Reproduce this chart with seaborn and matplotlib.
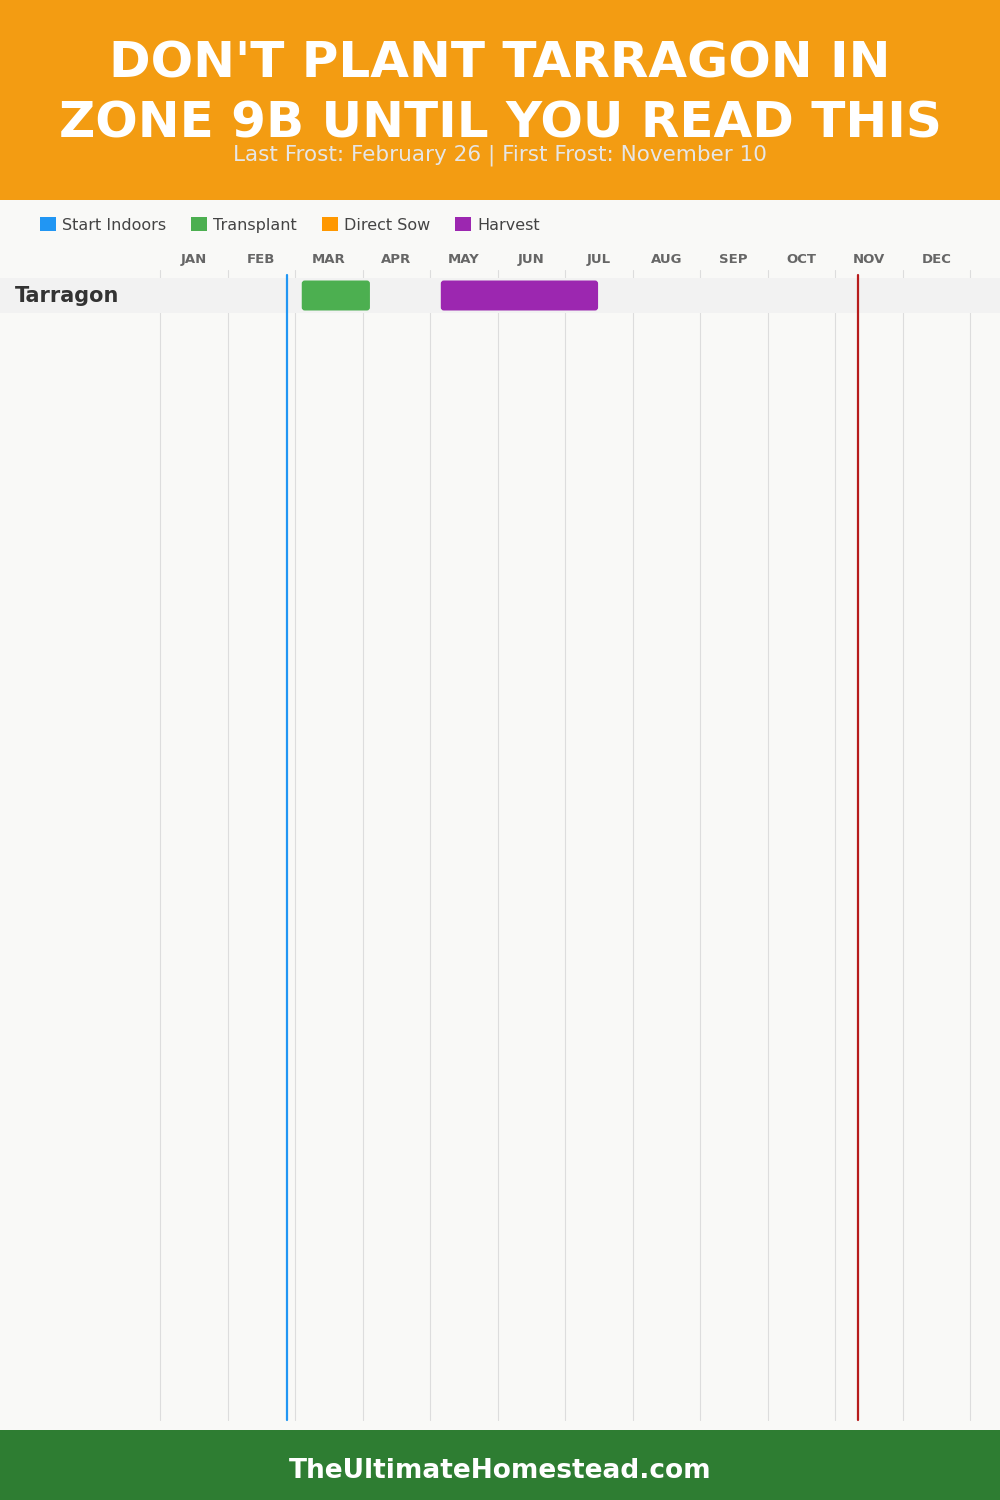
import matplotlib
matplotlib.use("Agg")
import matplotlib.pyplot as plt
from matplotlib.patches import Rectangle, Patch, FancyBboxPatch
import seaborn as sns
import pandas as pd

# ---------------- data ----------------
months = ["JAN", "FEB", "MAR", "APR", "MAY", "JUN",
          "JUL", "AUG", "SEP", "OCT", "NOV", "DEC"]
crops = ["Tarragon"]
seg_crop = ["Tarragon", "Tarragon"]
seg_activity = ["Transplant", "Harvest"]
seg_start = [2.10, 4.16]      # in months from Jan 1
seg_end = [3.11, 6.49]
activities = ["Start Indoors", "Transplant", "Direct Sow", "Harvest"]
activity_colors = ["#2196F3", "#4CAF50", "#FF9800", "#9C27B0"]
last_frost = 1.88   # Feb 26
first_frost = 10.34  # Nov 10
title_lines = ["DON'T PLANT TARRAGON IN", "ZONE 9B UNTIL YOU READ THIS"]
subtitle = "Last Frost: February 26 | First Frost: November 10"
footer = "TheUltimateHomestead.com"

# ---------------- style ----------------
sns.set_theme(style="white")
plt.rcParams["font.family"] = ["DejaVu Sans"]

BG = "#F9F9F7"
W, H = 1000, 1500
fig = plt.figure(figsize=(10, 15), dpi=100, facecolor=BG)

# header & footer bands
fig.patches.append(Rectangle((0, 1 - 200 / H), 1, 200 / H, transform=fig.transFigure,
                             facecolor="#F39C12", edgecolor="none", zorder=0))
fig.patches.append(Rectangle((0, 0), 1, 70 / H, transform=fig.transFigure,
                             facecolor="#2E7D32", edgecolor="none", zorder=0))

fig.text(0.5, 1 - 64 / H, title_lines[0], ha="center", va="center", color="white",
         fontsize=36, fontweight="heavy")
fig.text(0.5, 1 - 124 / H, title_lines[1], ha="center", va="center", color="white",
         fontsize=36, fontweight="heavy")
fig.text(0.5, 1 - 155 / H, subtitle, ha="center", va="center", color="#E6E6E6",
         fontsize=15.5)
fig.text(0.5, 29 / H, footer, ha="center", va="center", color="white",
         fontsize=19, fontweight="bold")

# main axes: full width, between header and footer
ax = fig.add_axes([0, 70 / H, 1, (1430 - 200) / H])
ax.set_facecolor(BG)

px_per_month = 67.5
x0 = 160
row_px = 35.0
row_center = 295.5
xlim = (-x0 / px_per_month, (W - x0) / px_per_month)
ylim = ((1430 - row_center) / row_px, (200 - row_center) / row_px)


def ypx(p):
    return (p - row_center) / row_px


# gridlines
for i in range(len(months) + 1):
    ax.plot([i, i], [ypx(270), ypx(1420)], color="#DDDDDD", lw=0.8, zorder=1)

# row band
for j, c in enumerate(crops):
    ax.axhspan(j - 0.5, j + 0.5, color="#F2F2F2", zorder=2, lw=0)
    ax.text(0.015, j, c, transform=ax.get_yaxis_transform(), ha="left", va="center",
            fontsize=15, fontweight="bold", color="#333333", zorder=6)

# bars via seaborn
color_map = dict(zip(activities, activity_colors))
df = pd.DataFrame({"crop": seg_crop, "activity": seg_activity,
                   "start": seg_start, "end": seg_end})
df["duration"] = df["end"] - df["start"]
bar_h = 30 / row_px
for _, r in df.iterrows():
    sns.barplot(x=[r["duration"]], y=[r["crop"]], left=r["start"], orient="y",
                color=color_map[r["activity"]], saturation=1, width=bar_h,
                errorbar=None, ax=ax, zorder=4)

# replace bars with rounded versions
aspect = (1 / row_px) / (1 / px_per_month)
for p in list(ax.patches):
    if isinstance(p, Rectangle) and p.get_zorder() == 4:
        x, y = p.get_x(), p.get_y()
        w, h = p.get_width(), p.get_height()
        fc = p.get_facecolor()
        p.remove()
        ax.add_patch(FancyBboxPatch((x, y), w, h,
                                    boxstyle="round,pad=0,rounding_size=0.045",
                                    mutation_aspect=aspect, facecolor=fc,
                                    edgecolor="none", zorder=4))

# frost lines
ax.plot([last_frost, last_frost], [ypx(275), ypx(1420)], color="#2196F3", lw=1.6, zorder=5)
ax.plot([first_frost, first_frost], [ypx(275), ypx(1420)], color="#B71C1C", lw=1.6, zorder=5)

# month labels
for i, m in enumerate(months):
    ax.text(i + 0.5, ypx(259), m, ha="center", va="center", fontsize=9.5,
            fontweight="bold", color="#666666")

ax.set_xlim(*xlim)
ax.set_ylim(*ylim)
ax.set_xticks([])
ax.set_yticks([])
ax.set_xlabel("")
ax.set_ylabel("")
for s in ax.spines.values():
    s.set_visible(False)

# legend
handles = [Patch(facecolor=c, edgecolor="none", label=a)
           for a, c in zip(activities, activity_colors)]
fig.legend(handles=handles, loc="center left", bbox_to_anchor=(40 / W, 1 - 225 / H),
           ncol=4, frameon=False, fontsize=11.5, handlelength=1.0, handleheight=1.0,
           handletextpad=0.35, columnspacing=1.6, borderpad=0, borderaxespad=0,
           labelcolor="#444444")

fig.savefig("out.png", dpi=100, facecolor=BG)
